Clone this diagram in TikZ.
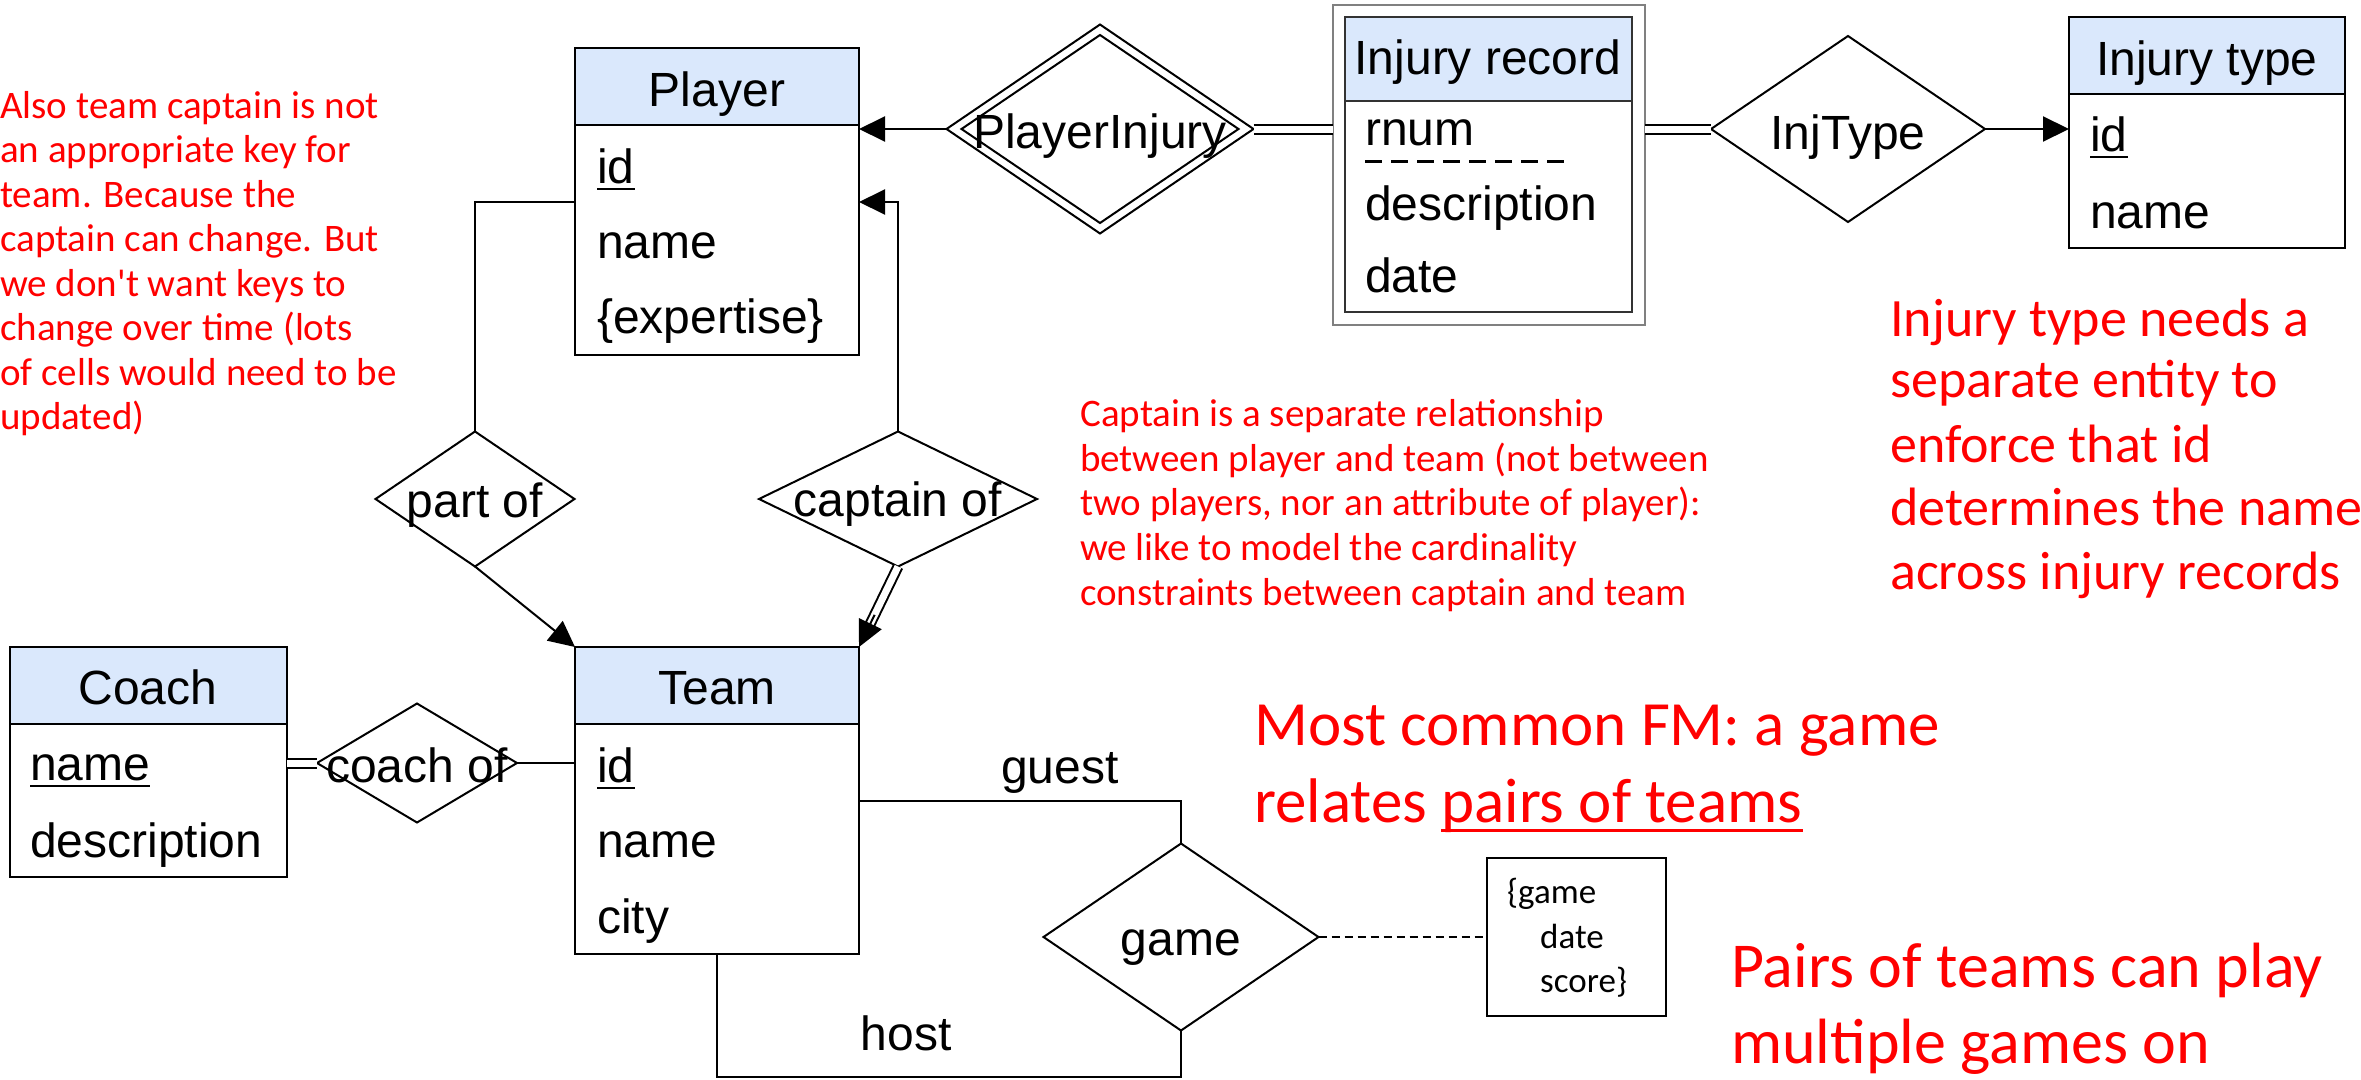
\documentclass[tikz,border=0pt]{standalone}
\usepackage{fontspec}
\setmainfont{Liberation Sans}
\newfontfamily\handfont{Carlito}
\usetikzlibrary{shapes.geometric,arrows.meta,calc}
\definecolor{hdrblue}{HTML}{DAE8FC}
\definecolor{notered}{RGB}{255,0,0}
% underlined key attribute
\newcommand\keyattr[1]{\setbox0=\hbox{#1}\rlap{\rule[-7pt]{\wd0}{2.5pt}}\box0}
% underlined words in the notes
\newcommand\handul[1]{\setbox0=\hbox{#1}\rlap{\rule[-10pt]{\wd0}{3.5pt}}\box0}

\begin{document}
\begin{tikzpicture}[x=1pt,y=-1pt,
  ent/.style={draw=black, line width=2.5pt, anchor=north west, inner sep=0pt, outer sep=0pt},
  hdr/.style={ent, fill=hdrblue},
  bdy/.style={ent, fill=white},
  rel/.style={diamond, draw=black, line width=2pt, inner sep=0pt, outer sep=0pt, fill=white},
  lbl/.style={anchor=base, inner sep=0pt, font=\fontsize{48}{58}\selectfont},
  attr/.style={anchor=base west, inner sep=0pt, font=\fontsize{48}{58}\selectfont},
  conn/.style={line width=2pt},
  arr/.style={conn, -{Triangle[length=26pt,width=25pt]}},
  dbl/.style={double, double distance=7pt, line width=2pt},
  note/.style={anchor=base west, inner sep=0pt, text=notered},
  smallnote/.style={note, font=\handfont\fontsize{39}{44}\selectfont},
  bignote/.style={note, font=\handfont\fontsize{54}{63}\selectfont},
  fmnote/.style={note, font=\handfont\fontsize{63}{70}\selectfont},
  pairnote/.style={note, font=\handfont\fontsize{64}{70}\selectfont}
]
\useasboundingbox (0,0) rectangle (2361,1079);
\clip (0,0) rectangle (2361,1079);

% ---------- entities ----------
% Player
\node[hdr, minimum width=284pt, minimum height=77pt] (playerH) at (575,48) {};
\node[bdy, minimum width=284pt, minimum height=230pt] (player) at (575,125) {};
\node[lbl] (playerT) at (717,106) {Player};
\node[attr] (plId) at (597,183) {\keyattr{id}};
\node[attr] (plName) at (597,258) {name};
\node[attr] (plExp) at (597,333) {\{expertise\}};

% Team
\node[hdr, minimum width=284pt, minimum height=77pt] (teamH) at (575,647) {};
\node[bdy, minimum width=284pt, minimum height=230pt] (team) at (575,724) {};
\node[lbl] (teamT) at (717,704) {Team};
\node[attr] (tmId) at (597,782) {\keyattr{id}};
\node[attr] (tmName) at (597,857) {name};
\node[attr] (tmCity) at (597,933) {city};

% Coach
\node[hdr, minimum width=277pt, minimum height=77pt] (coachH) at (10,647) {};
\node[bdy, minimum width=277pt, minimum height=153pt] (coach) at (10,724) {};
\node[lbl] (coachT) at (148,704) {Coach};
\node[attr] (chName) at (30,780) {\keyattr{name}};
\node[attr] (chDesc) at (30,857) {description};

% Injury record (weak entity)
\node[ent, draw=gray, line width=2pt, minimum width=312pt, minimum height=320pt] (irOuter) at (1333,5) {};
\node[hdr, draw=black!80, minimum width=287pt, minimum height=84pt] (irH) at (1345,17) {};
\node[bdy, draw=black!80, minimum width=287pt, minimum height=211pt] (ir) at (1345,101) {};
\node[lbl] (irT) at (1488,74) {Injury record};
\node[attr] (irNum) at (1365,145) {rnum};
\draw[line width=3pt, dash pattern=on 17pt off 9pt] (irNum.south west |- 0,161) -- ++(205,0);
\node[attr] (irDesc) at (1365,220) {description};
\node[attr] (irDate) at (1365,292) {date};

% Injury type
\node[hdr, minimum width=276pt, minimum height=77pt] (itH) at (2069,17) {};
\node[bdy, minimum width=276pt, minimum height=154pt] (it) at (2069,94) {};
\node[lbl] (itT) at (2207,75) {Injury type};
\node[attr] (itId) at (2090,151) {\keyattr{id}};
\node[attr] (itName) at (2090,228) {name};

% ---------- relationships ----------
\node[rel, minimum width=307pt, minimum height=209pt] (pinj) at (1100,129) {};
\node[rel, fill=none, minimum width=277pt, minimum height=188pt] (pinjIn) at (1100,129) {};
\node[lbl] (pinjT) at (1100,148) {PlayerInjury};

\node[rel, minimum width=274pt, minimum height=186pt] (injt) at (1848,129) {};
\node[lbl] (injtT) at (1848,149) {InjType};

\node[rel, minimum width=199pt, minimum height=135pt] (pof) at (475,499) {};
\node[lbl] (pofT) at (475,517) {part of};

\node[rel, minimum width=278pt, minimum height=135pt] (cap) at (898,499) {};
\node[lbl] (capT) at (898,516) {captain of};

\node[rel, minimum width=200pt, minimum height=119pt] (cof) at (417,763) {};
\node[lbl] (cofT) at (417,782) {coach of};

\node[rel, minimum width=275pt, minimum height=187pt] (game) at (1181,937) {};
\node[lbl] (gameT) at (1181,955) {game};

% attributes of game
\node[ent, line width=2pt, minimum width=179pt, minimum height=158pt] (gattr) at (1487,858) {};
\node[note, text=black, font=\handfont\fontsize{35}{40}\selectfont] (gaGame) at (1507,903) {\{game};
\node[note, text=black, font=\handfont\fontsize{35}{40}\selectfont] (gaDate) at (1540,948) {date};
\node[note, text=black, font=\handfont\fontsize{35}{40}\selectfont] (gaScore) at (1540,992) {score\}};

% ---------- connectors ----------
\draw[arr] (pinj.west) -- (pinj.west -| player.east);
\draw[dbl] (pinj.east) -- (pinj.east -| irOuter.west);
\draw[dbl] (injt.west -| irOuter.east) -- (injt.west);
\draw[arr] (injt.east) -- (injt.east -| it.west);

\draw[conn] (pof.north) |- (player.west |- 0,202);
\draw[arr] (pof.south) -- (teamH.north west);
\draw[arr] (cap.north) |- (player.east |- 0,202);
\draw[dbl, shorten >=20pt] (cap.south) -- (teamH.north east);
\draw[arr] ($(cap.south)!0.6!(teamH.north east)$) -- (teamH.north east);

\draw[dbl] (cof.west -| coach.east) -- (cof.west);
\draw[conn] (cof.east) -- (cof.east -| team.west);

\draw[conn] (team.east |- 0,801) -| (game.north);
\draw[conn] (team.south) |- (game.south |- 0,1077) -- (game.south);
\draw[conn, dash pattern=on 8pt off 5pt] (game.east) -- (gattr.west);
\node[lbl] (guestT) at (1060,783) {guest};
\node[lbl] (hostT) at (906,1050) {host};

% ---------- notes ----------
\node[smallnote] (n1a) at (0,118) {Also team captain is not};
\node[smallnote] (n1b) at (0,162) {an appropriate key for};
\node[smallnote] (n1c) at (0,207) {team. Because the};
\node[smallnote] (n1d) at (0,251) {captain can change. But};
\node[smallnote] (n1e) at (0,296) {we don't want keys to};
\node[smallnote] (n1f) at (0,340) {change over time (lots};
\node[smallnote] (n1g) at (0,385) {of cells would need to be};
\node[smallnote] (n1h) at (0,429) {updated)};

\node[smallnote] (n2a) at (1080,426) {Captain is a separate relationship};
\node[smallnote] (n2b) at (1080,471) {between player and team (not between};
\node[smallnote] (n2c) at (1080,515) {two players, nor an attribute of player):};
\node[smallnote] (n2d) at (1080,560) {we like to model the cardinality};
\node[smallnote] (n2e) at (1080,605) {constraints between captain and team};

\node[bignote] (n3a) at (1890,336) {Injury type needs a};
\node[bignote] (n3b) at (1890,397) {separate entity to};
\node[bignote] (n3c) at (1890,462) {enforce that id};
\node[bignote] (n3d) at (1890,525) {determines the name};
\node[bignote] (n3e) at (1890,589) {across injury records};

\node[fmnote] (n4a) at (1254,745) {Most common FM: a game};
\node[fmnote] (n4b) at (1254,822) {relates \handul{pairs of teams}};

\node[pairnote] (n5a) at (1731,987) {Pairs of teams can play};
\node[pairnote] (n5b) at (1731,1063) {multiple games on};
\end{tikzpicture}
\end{document}
